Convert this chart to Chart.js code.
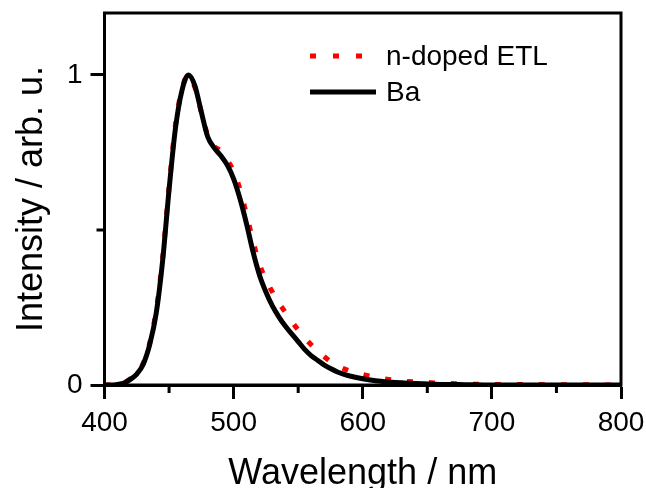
<!DOCTYPE html>
<html>
<head>
<meta charset="utf-8">
<script src="https://cdn.jsdelivr.net/npm/chart.js@4/dist/chart.umd.min.js"></script>
<style>
  html, body { margin: 0; padding: 0; background: #fff; }
  #wrap { width: 646px; height: 488px; }
</style>
</head>
<body>
<div id="wrap"><canvas id="elChart" width="646" height="488"></canvas></div>
<script>
// Espectros de EL normalizados
var wavelengthEtl = [400, 405, 410, 415, 420, 425, 430, 435, 440, 445, 450, 455, 460, 465, 470, 475, 480, 485, 490, 495, 500, 505, 510, 515, 520, 525, 530, 535, 540, 545, 550, 555, 560, 565, 570, 575, 580, 590, 600, 610, 620, 630, 640, 650, 660, 680, 700, 750, 800];
var intensityEtl  = [0, 0, 0.002, 0.007, 0.02, 0.04, 0.07, 0.135, 0.24, 0.41, 0.64, 0.84, 0.955, 1.0, 0.96, 0.88, 0.805, 0.77, 0.755, 0.725, 0.69, 0.63, 0.55, 0.465, 0.39, 0.34, 0.30, 0.265, 0.235, 0.205, 0.178, 0.152, 0.13, 0.11, 0.092, 0.076, 0.063, 0.045, 0.034, 0.025, 0.018, 0.013, 0.01, 0.008, 0.006, 0.003, 0.002, 0.001, 0];

var wavelengthBa = [400, 405, 410, 415, 420, 425, 430, 435, 440, 445, 450, 455, 460, 465, 470, 475, 480, 485, 490, 495, 500, 505, 510, 515, 520, 525, 530, 535, 540, 545, 550, 555, 560, 565, 570, 575, 580, 585, 590, 600, 610, 620, 630, 640, 660, 680, 700, 800];
var intensityBa  = [0, 0, 0.002, 0.006, 0.018, 0.035, 0.067, 0.13, 0.23, 0.40, 0.63, 0.83, 0.95, 1.0, 0.965, 0.88, 0.80, 0.765, 0.74, 0.71, 0.665, 0.60, 0.52, 0.43, 0.355, 0.30, 0.255, 0.22, 0.19, 0.165, 0.14, 0.115, 0.095, 0.08, 0.065, 0.053, 0.043, 0.035, 0.029, 0.02, 0.014, 0.01, 0.007, 0.005, 0.002, 0.001, 0, 0];

var xTicks = [400, 500, 600, 700, 800];
var xMinorTicks = [450, 550, 650, 750];
var yTicks = [0, 1];
var yMinorTicks = [0.5];

var seriesNames = ['n-doped ETL', 'Ba'];

var FONT = "'Liberation Sans', Arial, Helvetica, sans-serif";

function toPoints(xs, ys) {
    var pts = [];
    for (var i = 0; i < xs.length; i++) {
        pts.push({ x: xs[i], y: ys[i] });
    }
    return pts;
}

// moldura, ticks menores e legenda
var framePlugin = {
    id: 'frame',
    afterDraw: function(chart) {
        var ctx = chart.ctx;
        var a = chart.chartArea;
        var xs = chart.scales.x;
        var ys = chart.scales.y;
        ctx.save();
        ctx.strokeStyle = '#000';
        ctx.lineWidth = 3;
        ctx.strokeRect(a.left, a.top, a.right - a.left, a.bottom - a.top);

        ctx.beginPath();
        for (var i = 0; i < xMinorTicks.length; i++) {
            var px = xs.getPixelForValue(xMinorTicks[i]);
            ctx.moveTo(px, a.bottom);
            ctx.lineTo(px, a.bottom + 8);
        }
        for (var j = 0; j < yMinorTicks.length; j++) {
            var py = ys.getPixelForValue(yMinorTicks[j]);
            ctx.moveTo(a.left, py);
            ctx.lineTo(a.left - 8, py);
        }
        ctx.stroke();

        // legenda
        ctx.lineCap = 'butt';
        ctx.strokeStyle = '#ff0000';
        ctx.lineWidth = 5;
        ctx.setLineDash([6, 17]);
        ctx.beginPath();
        ctx.moveTo(310, 56);
        ctx.lineTo(364, 56);
        ctx.stroke();

        ctx.setLineDash([]);
        ctx.strokeStyle = '#000';
        ctx.lineWidth = 5;
        ctx.beginPath();
        ctx.moveTo(310, 92);
        ctx.lineTo(376, 92);
        ctx.stroke();

        ctx.fillStyle = '#000';
        ctx.font = '28px ' + FONT;
        ctx.textBaseline = 'middle';
        ctx.textAlign = 'left';
        ctx.fillText(seriesNames[0], 386, 57);
        ctx.fillText(seriesNames[1], 386, 93);
        ctx.restore();
    }
};

var chart = new Chart(document.getElementById('elChart'), {
    type: 'line',
    data: {
        datasets: [{
            label: seriesNames[0],
            data: toPoints(wavelengthEtl, intensityEtl),
            borderColor: '#ff0000',
            borderWidth: 5,
            borderDash: [6, 16],
            borderCapStyle: 'butt',
            pointRadius: 0,
            cubicInterpolationMode: 'monotone',
            fill: false,
            order: 1
        }, {
            label: seriesNames[1],
            data: toPoints(wavelengthBa, intensityBa),
            borderColor: '#000000',
            borderWidth: 5,
            pointRadius: 0,
            cubicInterpolationMode: 'monotone',
            fill: false,
            order: 0
        }]
    },
    options: {
        responsive: false,
        animation: false,
        devicePixelRatio: 1,
        layout: { padding: { top: 13, right: 25, left: 0, bottom: 0 } },
        plugins: {
            legend: { display: false },
            tooltip: { enabled: false },
            title: { display: false }
        },
        scales: {
            x: {
                type: 'linear',
                min: 400,
                max: 800,
                afterBuildTicks: function(scale) {
                    scale.ticks = xTicks.map(function(v) { return { value: v }; });
                },
                afterFit: function(scale) {
                    scale.height = 103;
                    scale.paddingLeft = 0;
                    scale.paddingRight = 0;
                },
                border: { display: true, color: '#000', width: 3 },
                grid: { drawOnChartArea: false, drawTicks: true, tickLength: 14, tickWidth: 3, tickColor: '#000' },
                ticks: {
                    color: '#000',
                    font: { family: FONT, size: 28 },
                    padding: 7,
                    maxRotation: 0
                },
                title: {
                    display: true,
                    text: 'Wavelength / nm',
                    color: '#000',
                    font: { family: FONT, size: 36 },
                    padding: { top: 0, bottom: -8 }
                }
            },
            y: {
                type: 'linear',
                min: 0,
                max: 1.2,
                afterBuildTicks: function(scale) {
                    scale.ticks = yTicks.map(function(v) { return { value: v }; });
                },
                afterFit: function(scale) {
                    scale.width = 104.5;
                    scale.paddingTop = 0;
                    scale.paddingBottom = 0;
                },
                border: { display: true, color: '#000', width: 3 },
                grid: { drawOnChartArea: false, drawTicks: true, tickLength: 14, tickWidth: 3, tickColor: '#000' },
                ticks: {
                    color: '#000',
                    font: { family: FONT, size: 28 },
                    padding: 8
                },
                title: {
                    display: true,
                    text: 'Intensity / arb. u.',
                    color: '#000',
                    font: { family: FONT, size: 36 },
                    padding: { top: 10, bottom: 0 }
                }
            }
        }
    },
    plugins: [framePlugin]
});
</script>
</body>
</html>
